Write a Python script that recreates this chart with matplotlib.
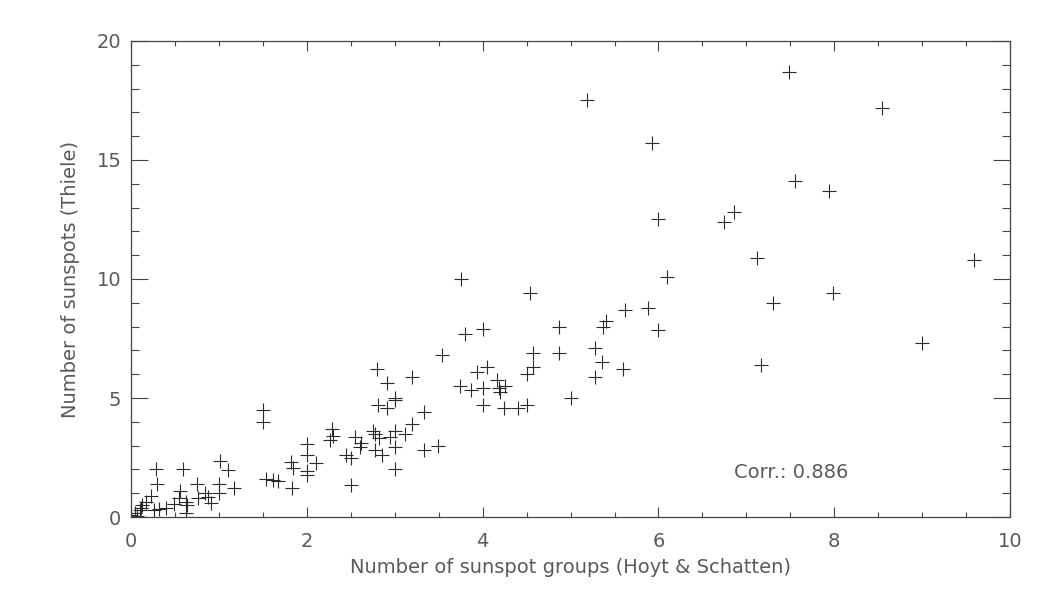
"""Scatter: Thiele sunspot counts vs Hoyt & Schatten group numbers, IDL-ish look."""

import matplotlib
matplotlib.use("Agg")
import matplotlib.pyplot as plt
from matplotlib.ticker import MultipleLocator

# groups (Hoyt & Schatten)
groups = [
    7.49, 8.54, 5.19, 5.93, 7.55, 7.94, 6.86, 6.74, 6.00, 7.12, 9.59, 6.10, 3.75,
    7.99, 7.30, 9.00, 7.17, 4.54, 5.88, 5.62, 5.40, 5.37, 4.87, 4.00, 5.99, 3.80,
    5.28, 4.87, 4.57, 3.54, 5.36, 4.05, 4.57, 2.80, 5.60, 3.93, 4.50, 3.20, 5.28,
    4.16, 2.91, 3.74, 4.25, 4.00, 4.19, 3.87, 4.20, 5.00, 3.00, 3.00, 2.81, 4.00,
    4.50, 2.91, 4.24, 4.40, 1.50, 3.33, 1.50, 3.20, 2.29, 2.75, 3.00, 2.78, 3.12,
    2.30, 2.95, 2.55, 2.82, 2.26, 2.62, 2.00, 3.49, 2.60, 3.00, 2.77, 3.33, 2.00,
    2.45, 2.86, 2.50, 1.01, 1.82, 2.10, 0.28, 0.59, 1.10, 1.84, 2.00, 3.00, 2.00,
    1.54, 1.62, 1.67, 0.30, 0.75, 1.00, 2.50, 1.17, 1.83, 0.56, 0.84, 1.00, 0.23,
    0.87, 0.76, 0.55, 0.17, 0.63, 0.91, 0.49, 0.64, 0.13, 0.63, 0.40, 0.32, 0.26,
    0.11, 0.10, 0.04, 0.00, 0.07,
]

# sunspots (Thiele)
spots = [
    18.7, 17.2, 17.5, 15.7, 14.1, 13.7, 12.8, 12.4, 12.5, 10.9, 10.8, 10.1, 10.0,
    9.40, 9.00, 7.30, 6.40, 9.40, 8.80, 8.70, 8.25, 8.00, 8.00, 7.90, 7.85, 7.70,
    7.10, 6.90, 6.90, 6.80, 6.50, 6.30, 6.30, 6.20, 6.20, 6.10, 6.00, 5.90, 5.90,
    5.75, 5.65, 5.50, 5.50, 5.40, 5.40, 5.35, 5.25, 5.00, 5.00, 4.90, 4.70, 4.70,
    4.70, 4.60, 4.60, 4.60, 4.50, 4.40, 4.00, 3.90, 3.70, 3.60, 3.60, 3.50, 3.50,
    3.40, 3.35, 3.35, 3.30, 3.25, 3.10, 3.05, 3.00, 2.95, 2.95, 2.80, 2.80, 2.60,
    2.60, 2.60, 2.50, 2.35, 2.30, 2.25, 2.00, 2.00, 1.97, 2.05, 1.95, 2.00, 1.75,
    1.60, 1.55, 1.50, 1.40, 1.40, 1.40, 1.35, 1.20, 1.20, 1.10, 1.00, 1.00, 0.88,
    0.85, 0.78, 0.78, 0.64, 0.64, 0.57, 0.53, 0.50, 0.50, 0.15, 0.36, 0.34, 0.29,
    0.36, 0.30, 0.15, 0.10, 0.05,
]

corr_text = "Corr.: 0.886"
xlabel = "Number of sunspot groups (Hoyt & Schatten)"
ylabel = "Number of sunspots (Thiele)"


def main():
    plt.rcParams["font.family"] = ["DejaVu Sans"]
    text_color = "#5a5a5a"
    axis_color = "#444444"

    fig = plt.figure(figsize=(10.5, 6), dpi=100)
    ax = fig.add_axes([0.1248, 0.1383, 0.8372, 0.7934])

    ax.plot(groups, spots, linestyle="none", marker="+", markersize=10,
            markeredgewidth=0.8, color="#2a2a2a")

    ax.set_xlim(0, 10)
    ax.set_ylim(0, 20)
    ax.xaxis.set_major_locator(MultipleLocator(2))
    ax.xaxis.set_minor_locator(MultipleLocator(0.5))
    ax.yaxis.set_major_locator(MultipleLocator(5))
    ax.yaxis.set_minor_locator(MultipleLocator(1))

    ax.tick_params(axis="both", which="both", direction="in", top=True, right=True,
                   color=axis_color, width=0.8, labelcolor=text_color, labelsize=14)
    ax.tick_params(axis="x", which="major", length=7, pad=11)
    ax.tick_params(axis="x", which="minor", length=3.5)
    ax.tick_params(axis="y", which="major", length=12, pad=7)
    ax.tick_params(axis="y", which="minor", length=6)

    for spine in ax.spines.values():
        spine.set_color(axis_color)
        spine.set_linewidth(0.9)

    ax.set_xlabel(xlabel, fontsize=14, color=text_color, labelpad=5)
    ax.set_ylabel(ylabel, fontsize=14, color=text_color, labelpad=12)

    ax.text(6.86, 1.85, corr_text, fontsize=14, color=text_color,
            ha="left", va="center")

    fig.savefig("out.png", dpi=100)


if __name__ == "__main__":
    main()
